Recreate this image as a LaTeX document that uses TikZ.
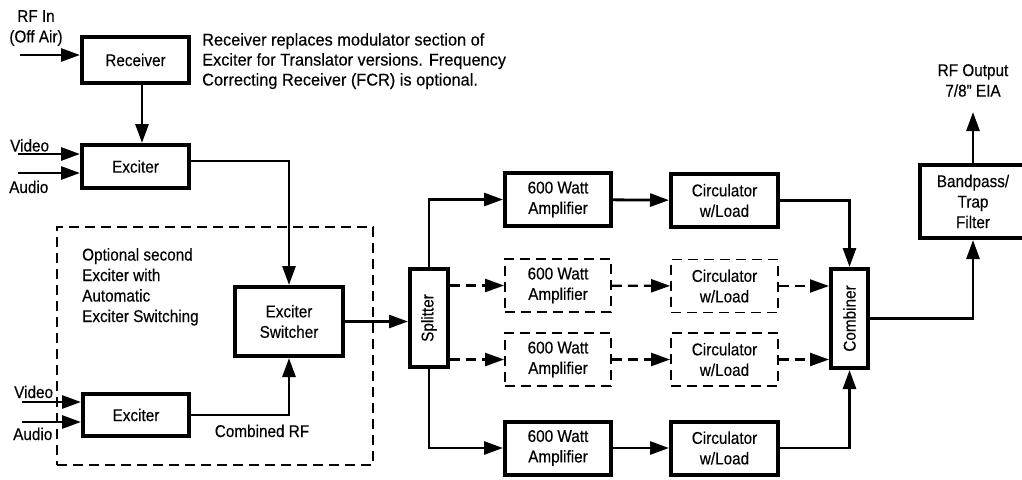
\documentclass[tikz,border=0pt]{standalone}
\usepackage{fontspec}
\setmainfont{Liberation Sans}[FakeStretch=0.9,FakeBold=0.3]
\newfontfamily\notefont{Liberation Sans}[FakeStretch=0.96,FakeBold=0.3]
\usetikzlibrary{arrows.meta}
\begin{document}
\begin{tikzpicture}[x=1pt,y=-1pt,
  txt/.style={inner sep=0pt, font=\fontsize{17}{20.5}\selectfont},
  blk/.style={txt, draw, line width=4pt, align=center},
  dblk/.style={txt, draw, line width=1.8pt, align=center, dash pattern=on 10pt off 6pt},
  grpbox/.style={draw, line width=1.8pt, dash pattern=on 10pt off 6pt},
  wire/.style={line width=2.8pt},
  conn/.style={wire, -{Triangle[length=19pt,width=13pt]}},
  dconn/.style={conn, line width=2.2pt, dash pattern=on 10pt off 6pt},
  ampbox/.style={minimum width=106, minimum height=53},
  circbox/.style={minimum width=107, minimum height=53}]
\useasboundingbox (0,0) rectangle (1022,479);
\clip (0,0) rectangle (1022,479);
\fill[white] (0,0) rectangle (1022,479);

% group box
\node[grpbox, minimum width=316, minimum height=238] (grp) at (215,346) {};

% blocks
\node[blk, minimum width=107, minimum height=46] (rcv) at (135.5,60) {Receiver};
\node[blk, minimum width=107, minimum height=43] (exc1) at (135.5,166.5) {Exciter};
\node[blk, minimum width=108, minimum height=69] (sw) at (289,321.5) {Exciter\\Switcher};
\node[blk, minimum width=106, minimum height=42] (exc2) at (136,415) {Exciter};
\node[blk, minimum width=38, minimum height=98] (spl) at (429,318) {\rotatebox{90}{Splitter}};

\node[blk, ampbox] (amp1) at (558,199.5) {600 Watt\\Amplifier};
\node[blk, circbox] (circ1) at (724.5,200.5) {Circulator\\w/Load};
\node[dblk, ampbox] (amp2) at (558,285.5) {600 Watt\\Amplifier};
\node[dblk, circbox] (circ2) at (724.5,286) {Circulator\\w/Load};
\node[dblk, ampbox] (amp3) at (558,359.5) {600 Watt\\Amplifier};
\node[dblk, circbox] (circ3) at (724.5,359.5) {Circulator\\w/Load};
\node[blk, ampbox] (amp4) at (558,448) {600 Watt\\Amplifier};
\node[blk, circbox] (circ4) at (724.5,448) {Circulator\\w/Load};

\node[blk, minimum width=37, minimum height=99] (comb) at (849.5,318.5) {\rotatebox{90}{Combiner}};
\node[blk, minimum width=106, minimum height=73] (filt) at (973,201.5) {Bandpass/\\Trap\\Filter};

% labels
\node[txt, anchor=north, align=center] (rfinlbl) at (36,10) {RF In\\(Off Air)};
\node[txt, anchor=north west, align=left, font=\notefont\fontsize{17}{20}\selectfont] (note) at (202,33)
  {Receiver replaces modulator section of\\Exciter for Translator versions. Frequency\\Correcting Receiver (FCR) is optional.};
\node[txt, anchor=north west, align=left] (opt) at (82,248) {Optional second\\Exciter with\\Automatic\\Exciter Switching};
\node[txt, anchor=base west] (v1lbl) at (10,151.5) {Video};
\node[txt, anchor=base west] (a1lbl) at (9,193) {Audio};
\node[txt, anchor=base west] (v2lbl) at (14,398) {Video};
\node[txt, anchor=base west] (a2lbl) at (13,440) {Audio};
\node[txt, anchor=base] (crf) at (262,437) {Combined RF};
\node[txt, anchor=north, align=center] (outlbl) at (973,64) {RF Output\\7/8” EIA};

% free ends
\coordinate (rfin) at (20,55);
\coordinate (v1) at (18,154);
\coordinate (a1) at (18,173);
\coordinate (v2) at (22,402);
\coordinate (a2) at (22,422);
\coordinate (out) at (973,112);

% connectors
\draw[conn] (rfin) -- (rfin -| rcv.west);
\draw[conn] ([xshift=6.5pt]rcv.south) -- ([xshift=6.5pt]exc1.north);
\draw[conn] (v1) -- (v1 -| exc1.west);
\draw[conn] (a1) -- (a1 -| exc1.west);
\draw[conn] ([yshift=5.5pt]exc1.east) -| (sw.north);
\draw[conn] (v2) -- (v2 -| exc2.west);
\draw[conn] (a2) -- (a2 -| exc2.west);
\draw[conn] (exc2.east) -| (sw.south);
\draw[conn] (sw.east) -- (sw.east -| spl.west);

\draw[conn] (spl.north) |- (amp1.west);
\draw[dconn] (spl.east |- amp2.west) -- (amp2.west);
\draw[dconn] (spl.east |- amp3.west) -- (amp3.west);
\draw[conn] (spl.south) |- (amp4.west);

\draw[conn] (amp1) -- (circ1);
\draw[dconn] (amp2) -- (circ2);
\draw[dconn] (amp3) -- (circ3);
\draw[conn] (amp4) -- (circ4);

\draw[conn] (circ1.east) -| (comb.north);
\draw[dconn] (circ2.east) -- (circ2.east -| comb.west);
\draw[dconn] (circ3.east) -- (circ3.east -| comb.west);
\draw[conn] (circ4.east) -| (comb.south);

\draw[conn] (comb.east) -| (filt.south);
\draw[conn] (filt.north) -- (out);
\end{tikzpicture}
\end{document}
